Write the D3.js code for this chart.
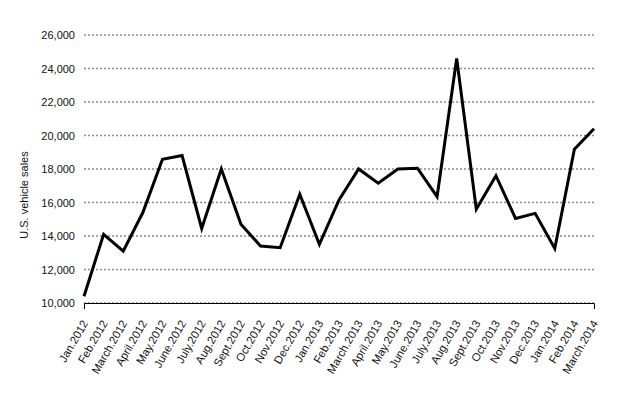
<!DOCTYPE html>
<html><head><meta charset="utf-8">
<script src="https://cdn.jsdelivr.net/npm/d3@7"></script>
<style>body{margin:0;background:#fff;} text{font-family:"Liberation Sans",Arial,Helvetica,sans-serif;}</style>
</head><body><svg id="c" width="630" height="400"></svg>
<script>
const months = ["Jan.2012","Feb.2012","March.2012","April.2012","May.2012","June.2012","July.2012","Aug.2012","Sept.2012","Oct.2012","Nov.2012","Dec.2012","Jan.2013","Feb.2013","March.2013","April.2013","May.2013","June.2013","July.2013","Aug.2013","Sept.2013","Oct.2013","Nov.2013","Dec.2013","Jan.2014","Feb.2014","March.2014"];
const sales = [10400,14100,13100,15400,18580,18800,14450,18000,14700,13400,13300,16500,13500,16150,18000,17150,18000,18050,16350,24600,15600,17600,15050,15350,13250,19180,20400];
const yTicks = [10000,12000,14000,16000,18000,20000,22000,24000,26000];
const yLabel = "U.S. vehicle sales";

const svg = d3.select("#c");
const mLeft = 84, mRight = 594, mTop = 35, mBottom = 303;
const x = d3.scalePoint().domain(months).range([mLeft, mRight]);
const y = d3.scaleLinear().domain([10000, 26000]).range([mBottom, mTop]);

// gridlines
svg.append("g").selectAll("line").data(yTicks).join("line")
  .attr("x1", mLeft).attr("x2", mRight)
  .attr("y1", d => y(d)).attr("y2", d => y(d))
  .attr("stroke", "#8c8c8c").attr("stroke-width", 1.3).attr("stroke-dasharray", "2,2");

// y axis labels
const ya = svg.append("g").attr("transform", `translate(${mLeft},0)`)
  .call(d3.axisLeft(y).tickValues(yTicks).tickFormat(d3.format(",")).tickSize(0).tickPadding(9));
ya.select(".domain").remove();
ya.selectAll("text").attr("font-size", 11).attr("fill", "#111")
  .style("font-family", '"Liberation Sans",Arial,sans-serif');

// x axis
const xa = svg.append("g").attr("transform", `translate(0,${mBottom})`)
  .call(d3.axisBottom(x).tickSize(0).tickSizeOuter(6).tickPadding(0));
xa.select(".domain").attr("stroke", "#000").attr("stroke-width", 1);
xa.selectAll("text").attr("font-size", 11.3).attr("fill", "#111")
  .style("font-family", '"Liberation Sans",Arial,sans-serif')
  .attr("text-anchor", "end").attr("dy", 0)
  .attr("transform", "translate(4,20) rotate(-60)");

// line
svg.append("path").datum(sales)
  .attr("fill", "none").attr("stroke", "#000").attr("stroke-width", 3)
  .attr("stroke-linejoin", "miter")
  .attr("d", d3.line().x((d, i) => x(months[i])).y(d => y(d)));

// y label
svg.append("text").attr("transform", "translate(28,195) rotate(-90)")
  .attr("text-anchor", "middle").attr("font-size", 11).attr("fill", "#111").text(yLabel);
</script></body></html>
